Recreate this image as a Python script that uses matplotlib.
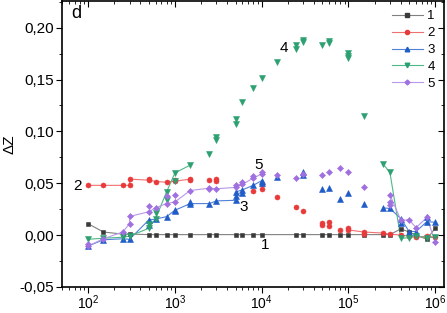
import numpy as np
import matplotlib
matplotlib.use("Agg")
import matplotlib.pyplot as plt
from matplotlib.ticker import FuncFormatter, MultipleLocator, LogLocator

plt.rcParams['font.family'] = ['Liberation Sans', 'DejaVu Sans']
plt.rcParams['mathtext.fontset'] = 'custom'
plt.rcParams['mathtext.rm'] = 'Liberation Sans'

# ---------------- data ----------------
# Series 1 (black squares)
s1_line_f = [100, 150, 250, 300, 500, 600, 800, 1000, 1500, 2500, 3000, 5000, 6000, 8000, 10000,
             25000, 30000, 50000, 60000, 80000, 100000, 150000, 250000, 300000, 400000, 500000,
             600000, 800000, 1000000]
s1_line_v = [0.011, 0.003, 0.001, 0.001, 0.0005, 0.0005, 0.0005, 0.0005, 0.0005, 0.0005, 0.0005,
             0.0005, 0.0005, 0.0005, 0.0005, 0.0005, 0.0005, 0.0005, 0.0005, 0.0005, 0.0005, 0.0005,
             0.0005, 0.0005, 0.006, 0.003, 0.0, -0.004, 0.007]
s1_pts_f = []
s1_pts_v = []

# Series 2 (red circles)
s2_line1_f = [100, 150, 250, 300, 300, 500, 600, 800, 1000, 1500]
s2_line1_v = [0.048, 0.048, 0.048, 0.048, 0.054, 0.053, 0.0517, 0.051, 0.052, 0.054]
s2_line2_f = [100000, 150000, 250000, 300000, 400000, 500000, 600000, 800000, 1000000]
s2_line2_v = [0.005, 0.003, 0.002, 0.001, 0.0, -0.001, -0.002, -0.001, -0.002]
s2_pts_f = [500, 1000, 1500, 2500, 3000, 3000, 8000, 10000, 10000, 15000, 25000, 30000,
            50000, 50000, 60000, 60000, 80000, 100000, 150000]
s2_pts_v = [0.0545, 0.0535, 0.053, 0.053, 0.0526, 0.054, 0.043, 0.049, 0.044, 0.0368, 0.027,
            0.0235, 0.0114, 0.0095, 0.0124, 0.0089, 0.005, 0.0065, 0.0015]

# Series 3 (blue up-triangles)
s3_line1_f = [100, 150, 250, 300, 500, 600, 800, 1000, 1500, 2500, 3000, 5000, 5000, 6000, 8000, 10000]
s3_line1_v = [-0.0105, -0.0045, -0.0035, -0.004, 0.0146, 0.0155, 0.0178, 0.024, 0.0304, 0.0304,
              0.033, 0.0336, 0.0415, 0.0437, 0.048, 0.0526]
s3_line2_f = [250000, 300000, 400000, 500000, 600000, 800000, 1000000]
s3_line2_v = [0.0263, 0.0257, 0.016, 0.0035, 0.0035, 0.013, 0.0124]
s3_pts_f = [500, 1000, 1500, 5000, 6000, 10000, 15000, 30000, 30000, 50000, 60000, 80000,
            100000, 150000, 400000, 800000]
s3_pts_v = [0.010, 0.023, 0.032, 0.038, 0.041, 0.0505, 0.0558, 0.0605, 0.058, 0.0447, 0.0456,
            0.0345, 0.041, 0.0298, 0.012, 0.017]

# Series 4 (green down-triangles)
s4_line1_f = [100, 150, 250, 300, 500, 600, 800, 1000, 1500]
s4_line1_v = [-0.004, -0.003, -0.002, -0.001, 0.0066, 0.016, 0.0415, 0.060, 0.0675]
s4_line2_f = [250000, 300000, 400000, 500000, 600000, 800000, 1000000]
s4_line2_v = [0.0685, 0.0605, -0.003, -0.0025, -0.001, -0.0025, -0.002]
s4_pts_f = [500, 600, 800, 1000, 2500, 3000, 3000, 5000, 5000, 6000, 8000, 10000, 15000,
            25000, 25000, 30000, 30000, 50000, 60000, 60000, 100000, 100000, 100000, 150000]
s4_pts_v = [0.011, 0.021, 0.0336, 0.052, 0.0786, 0.095, 0.0915, 0.112, 0.107, 0.1286, 0.142,
            0.151, 0.167, 0.1835, 0.179, 0.188, 0.186, 0.1835, 0.187, 0.185, 0.176, 0.173, 0.171,
            0.1153]

# Series 5 (purple diamonds)
s5_line1_f = [100, 150, 250, 300, 300, 500, 600, 800, 1000, 1500, 2500, 3000, 5000, 6000, 8000, 10000]
s5_line1_v = [-0.0105, -0.0035, 0.003, 0.011, 0.018, 0.0225, 0.0263, 0.0304, 0.032, 0.043,
              0.0453, 0.0447, 0.046, 0.049, 0.055, 0.059]
s5_line2_f = [300000, 400000, 500000, 600000, 800000, 1000000]
s5_line2_v = [0.039, 0.0146, 0.0146, 0.0073, 0.017, -0.007]
s5_pts_f = [100, 500, 800, 1000, 2500, 5000, 6000, 8000, 10000, 15000, 25000, 30000, 50000,
            60000, 80000, 100000, 150000, 300000, 300000]
s5_pts_v = [-0.009, 0.028, 0.0377, 0.0383, 0.044, 0.048, 0.0516, 0.0573, 0.061, 0.0583, 0.055,
            0.059, 0.0583, 0.0605, 0.065, 0.0605, 0.046, 0.029, 0.032]

labels = ['1', '2', '3', '4', '5']
colors = ['#3a3a3a', '#e83a3a', '#1f5cc8', '#2ca070', '#a070e0']
linecolors = ['#808080', '#f07070', '#5080d8', '#50b888', '#b898e8']
markers = ['s', 'o', '^', 'v', 'D']
msizes = [3.3, 3.6, 3.9, 3.9, 3.1]

series = [
    ([(s1_line_f, s1_line_v)], (s1_pts_f, s1_pts_v)),
    ([(s2_line1_f, s2_line1_v), (s2_line2_f, s2_line2_v)], (s2_pts_f, s2_pts_v)),
    ([(s3_line1_f, s3_line1_v), (s3_line2_f, s3_line2_v)], (s3_pts_f, s3_pts_v)),
    ([(s4_line1_f, s4_line1_v), (s4_line2_f, s4_line2_v)], (s4_pts_f, s4_pts_v)),
    ([(s5_line1_f, s5_line1_v), (s5_line2_f, s5_line2_v)], (s5_pts_f, s5_pts_v)),
]

# ---------------- plot ----------------
fig = plt.figure(figsize=(4.47, 3.13), dpi=100)
ax = fig.add_axes([62 / 447, 1 - 287 / 313, (444 - 62) / 447, 286 / 313])

handles = []
for i, (runs, pts) in enumerate(series):
    for (f, v) in runs:
        ax.plot(f, v, '-', color=linecolors[i], lw=0.8, zorder=2)
        ax.plot(f, v, linestyle='none', marker=markers[i], color=colors[i],
                markersize=msizes[i], markeredgewidth=0.4, zorder=3)
    if len(pts[0]):
        ax.plot(pts[0], pts[1], linestyle='none', marker=markers[i], color=colors[i],
                markersize=msizes[i], markeredgewidth=0.4, zorder=3)
    h, = ax.plot([], [], '-', color=linecolors[i], lw=0.8, marker=markers[i],
                 markerfacecolor=colors[i], markeredgecolor=colors[i], markersize=msizes[i] - 0.6,
                 label=labels[i])
    handles.append(h)

ax.set_xscale('log')
ax.set_xlim(50, 1.26e6)
ax.set_ylim(-0.05, 0.2257)

ax.yaxis.set_major_locator(MultipleLocator(0.05))
ax.yaxis.set_minor_locator(MultipleLocator(0.025))
ax.yaxis.set_major_formatter(FuncFormatter(lambda v, p: f"{v:.2f}".replace('.', ',')))
ax.xaxis.set_major_locator(LogLocator(base=10, numticks=10))
ax.xaxis.set_minor_locator(LogLocator(base=10, subs=np.arange(2, 10), numticks=20))

ax.tick_params(axis='both', which='major', labelsize=11, length=4, width=0.8)
ax.tick_params(axis='both', which='minor', length=2, width=0.6)
ax.tick_params(axis='x', which='both', direction='out', top=True, pad=0.5, labelsize=10)
ax.tick_params(axis='y', which='both', direction='out', right=True, pad=2)
for t in ax.xaxis.get_major_ticks():
    t.tick2line.set_marker(matplotlib.lines.TICKDOWN)
for t in ax.xaxis.get_minor_ticks():
    t.tick2line.set_marker(matplotlib.lines.TICKDOWN)
for t in ax.yaxis.get_major_ticks():
    t.tick2line.set_marker(matplotlib.lines.TICKLEFT)
for t in ax.yaxis.get_minor_ticks():
    t.tick2line.set_marker(matplotlib.lines.TICKLEFT)
for sp in ax.spines.values():
    sp.set_linewidth(1.2)

ax.set_ylabel('ΔZ', fontsize=11, labelpad=2)

ax.text(0.025, 0.955, 'd', transform=ax.transAxes, fontsize=13, va='center', ha='left')
ax.text(11000, -0.0095, '1', fontsize=11, ha='center', va='center')
ax.text(75, 0.0475, '2', fontsize=11, ha='center', va='center')
ax.text(6150, 0.0276, '3', fontsize=11, ha='center', va='center')
ax.text(17800, 0.180, '4', fontsize=11, ha='center', va='center')
ax.text(9300, 0.068, '5', fontsize=11, ha='center', va='center')

ax.legend(handles=handles, loc='upper right', frameon=False, fontsize=9.5,
          handlelength=2.4, handletextpad=0.3, labelspacing=0.35,
          borderaxespad=0.3, bbox_to_anchor=(1.0, 1.0))

fig.savefig('out.png', dpi=100)
